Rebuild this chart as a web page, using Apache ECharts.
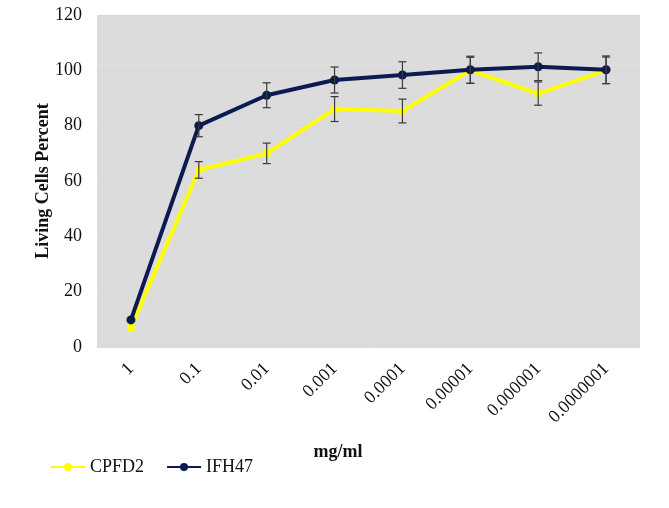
<!DOCTYPE html>
<html>
<head>
<meta charset="utf-8">
<script src="https://cdn.jsdelivr.net/npm/echarts@6/dist/echarts.min.js"></script>
<style>html,body{margin:0;padding:0;background:#fff}#c{width:669px;height:508px}</style>
</head>
<body>
<div id="c"></div>
<script>
var categories = ['1', '0.1', '0.01', '0.001', '0.0001', '0.00001', '0.000001', '0.0000001'];
var cpfd2 = [7, 64, 70, 86, 85.3, 100, 91.6, 100];
var cpfd2Err = [0, 3, 3.7, 4.5, 4.3, 4.7, 4.2, 4.8];
var ifh47 = [9.8, 80, 91, 96.5, 98.3, 100.2, 101.3, 100.2];
var ifh47Err = [0, 4, 4.5, 4.7, 4.8, 4.9, 5, 5];
var yTicks = [0, 20, 40, 60, 80, 100, 120];

var FONT = 'Liberation Serif';

function errData(vals, errs) {
  var out = [];
  for (var i = 0; i < vals.length; i++) {
    if (errs[i] > 0) out.push([i, vals[i] - errs[i], vals[i] + errs[i]]);
  }
  return out;
}

function renderErr(params, api) {
  var x = api.value(0);
  var lo = api.coord([x, api.value(1)]);
  var hi = api.coord([x, api.value(2)]);
  var hw = 4;
  var st = { stroke: '#3a3a3a', lineWidth: 1.2 };
  return {
    type: 'group',
    children: [
      { type: 'line', shape: { x1: lo[0], y1: lo[1], x2: hi[0], y2: hi[1] }, style: st },
      { type: 'line', shape: { x1: lo[0] - hw, y1: lo[1], x2: lo[0] + hw, y2: lo[1] }, style: st },
      { type: 'line', shape: { x1: hi[0] - hw, y1: hi[1], x2: hi[0] + hw, y2: hi[1] }, style: st }
    ]
  };
}

var chart = echarts.init(document.getElementById('c'), null, { renderer: 'canvas' });
chart.setOption({
  animation: false,
  backgroundColor: '#ffffff',
  textStyle: { fontFamily: FONT },
  grid: { left: 97, right: 29, top: 15, bottom: 161, show: true, backgroundColor: '#dcdcdc', borderWidth: 0 },
  legend: {
    data: ['CPFD2', 'IFH47'],
    left: 50, top: 458, padding: 0,
    itemWidth: 34, itemHeight: 10, itemGap: 22,
    textStyle: { fontFamily: FONT, fontSize: 18, color: '#111' }
  },
  graphic: [{
    type: 'text',
    style: { text: 'mg/ml', x: 338, y: 452, textAlign: 'center', textVerticalAlign: 'middle',
      font: 'bold 18px "Liberation Serif"', fill: '#111' }
  }],
  xAxis: {
    type: 'category',
    data: categories,
    boundaryGap: true,
    axisLine: { show: false },
    axisTick: { show: false },
    axisLabel: { rotate: 45, margin: 19, fontFamily: FONT, fontSize: 18, color: '#111', interval: 0 }
  },
  yAxis: {
    type: 'value',
    min: 0, max: 120, interval: 20,
    name: 'Living Cells Percent',
    nameLocation: 'middle',
    nameGap: 45,
    nameMoveOverlap: false,
    nameTextStyle: { fontFamily: FONT, fontSize: 18, fontWeight: 'bold', color: '#111' },
    axisLine: { show: false },
    axisTick: { show: false },
    splitLine: { show: true, lineStyle: { color: '#d7d7d7', width: 1 } },
    axisLabel: { margin: 15, fontFamily: FONT, fontSize: 18, color: '#111',
      formatter: function (v) { return yTicks.indexOf(v) >= 0 ? String(v) : ''; } }
  },
  series: [
    {
      name: 'CPFD2', type: 'line', data: cpfd2,
      symbol: 'circle', symbolSize: 8,
      lineStyle: { color: '#ffff00', width: 4 },
      itemStyle: { color: '#ffff00' },
      z: 2
    },
    {
      name: 'CPFD2 err', type: 'custom', renderItem: renderErr,
      data: errData(cpfd2, cpfd2Err), z: 5, silent: true
    },
    {
      name: 'IFH47', type: 'line', data: ifh47,
      symbol: 'circle', symbolSize: 9,
      lineStyle: { color: '#0c1a52', width: 4 },
      itemStyle: { color: '#0c1a52' },
      z: 3
    },
    {
      name: 'IFH47 err', type: 'custom', renderItem: renderErr,
      data: errData(ifh47, ifh47Err), z: 5, silent: true
    }
  ]
});
</script>
</body>
</html>
